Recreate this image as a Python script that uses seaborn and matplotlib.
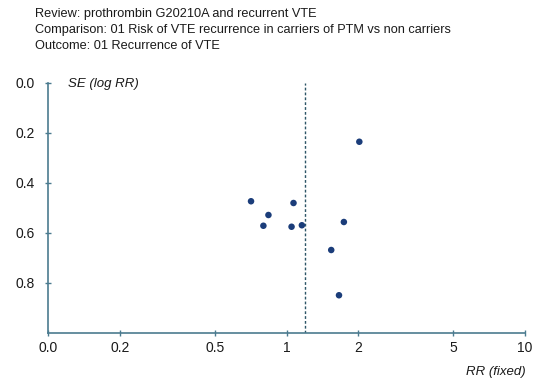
import matplotlib
matplotlib.use("Agg")
import matplotlib.pyplot as plt
import seaborn as sns
import pandas as pd

title_lines = [
    "Review: prothrombin G20210A and recurrent VTE",
    "Comparison: 01 Risk of VTE recurrence in carriers of PTM vs non carriers",
    "Outcome: 01 Recurrence of VTE",
]
rr = [2.02, 0.71, 1.07, 0.84, 0.80, 1.05, 1.16, 1.74, 1.54, 1.66]
se = [0.235, 0.473, 0.48, 0.528, 0.571, 0.575, 0.569, 0.556, 0.668, 0.849]
pooled_rr = 1.2
x_ticks = [0.1, 0.2, 0.5, 1, 2, 5, 10]
x_tick_labels = ["0.0", "0.2", "0.5", "1", "2", "5", "10"]
y_ticks = [0.0, 0.2, 0.4, 0.6, 0.8]
y_tick_labels = ["0.0", "0.2", "0.4", "0.6", "0.8"]

sns.set_style("white")
fam = ["Liberation Sans Narrow", "Liberation Sans", "DejaVu Sans"]
plt.rcParams["font.family"] = fam

df = pd.DataFrame({"RR": rr, "SE": se})

fig = plt.figure(figsize=(5.36, 3.8), dpi=100)
ax = fig.add_axes([48/536, (380-333)/380, (525-48)/536, (333-83)/380])

sns.scatterplot(data=df, x="RR", y="SE", ax=ax, color="#1b3d7a", s=22,
                edgecolor="none", zorder=3)
ax.axvline(pooled_rr, color="#2d5566", lw=1.0, ls=(0, (2, 1.5)), zorder=2)

ax.set_xscale("log")
ax.set_xlim(0.1, 10)
ax.set_ylim(1.0, 0.0)
ax.set_xticks(x_ticks)
ax.set_xticklabels(x_tick_labels)
ax.minorticks_off()
ax.set_yticks(y_ticks)
ax.set_yticklabels(y_tick_labels)
ax.set_xlabel("")
ax.set_ylabel("")

for s in ["top", "right"]:
    ax.spines[s].set_visible(False)
for s in ["left", "bottom"]:
    ax.spines[s].set_color("#4b7b8f")
    ax.spines[s].set_linewidth(1.2)
ax.tick_params(axis="both", direction="inout", length=5, width=1,
               color="#4b7b8f", labelsize=10, labelcolor="#1a1a1a",
               bottom=True, left=True)
ax.tick_params(axis="x", pad=3)
ax.tick_params(axis="y", pad=7)

for i, line in enumerate(title_lines):
    fig.text(35/536, 1 - (14 + 16*i)/380, line, fontsize=9.2, color="#1a1a1a",
             va="center", ha="left")
ax.text(68/536, 1 - 84/380, "SE (log RR)", transform=fig.transFigure,
        fontsize=9.5, style="italic", color="#1a1a1a", va="center", ha="left")
fig.text(526/536, 1 - 372/380, "RR (fixed)", fontsize=9.5, style="italic",
         color="#1a1a1a", va="center", ha="right")

fig.savefig("out.png", dpi=100)
